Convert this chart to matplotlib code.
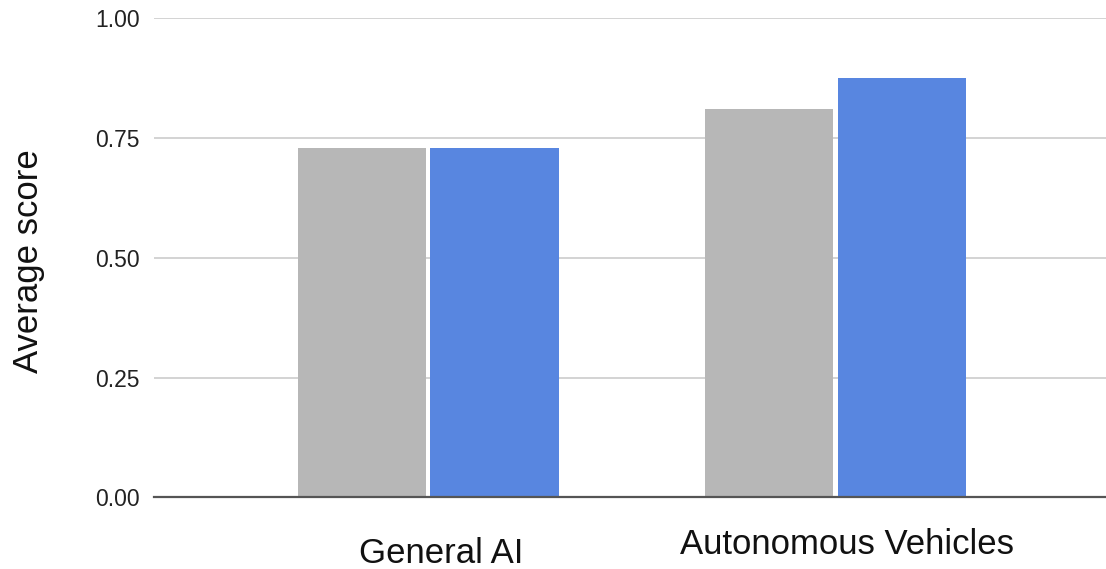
import matplotlib.pyplot as plt
import numpy as np

plt.rcParams['font.family'] = ['Liberation Sans', 'DejaVu Sans']

categories = ["General AI", "Autonomous Vehicles"]
series_gray = [0.729, 0.810]
series_blue = [0.729, 0.875]
yticks = [0.0, 0.25, 0.5, 0.75, 1.0]

fig = plt.figure(figsize=(11.06, 5.69), dpi=100)
ax = fig.add_axes([0.139, 0.126, 0.861, 0.842])

x = np.arange(len(categories))
w = 0.315
ax.bar(x - 0.163, series_gray, width=w, color="#b7b7b7", zorder=3)
ax.bar(x + 0.163, series_blue, width=w, color="#5886e0", zorder=3)

ax.set_xlim(-0.674, 1.665)
ax.set_ylim(0, 1.0)
ax.set_yticks(yticks)
ax.set_yticklabels([f"{v:.2f}" for v in yticks])
ax.yaxis.grid(True, color="#cccccc", linewidth=1.2, zorder=0)
ax.tick_params(axis="y", length=0, pad=10, labelsize=16.5, labelcolor="#222222")
ax.set_xticks([])
for s in ["top", "right", "left"]:
    ax.spines[s].set_visible(False)
ax.spines["bottom"].set_color("#555555")
ax.spines["bottom"].set_linewidth(1.6)
ax.spines["bottom"].set_zorder(4)

# category labels sit at slightly different heights in the original
label_dx = [0.031, 0.028]
label_y = [-0.118, -0.098]
for i, name in enumerate(categories):
    ax.text(x[i] + label_dx[i], label_y[i], name, transform=ax.get_xaxis_transform(),
            ha="center", va="center", fontsize=25, color="#111111")

fig.text(0.026, 0.541, "Average score", rotation=90, ha="center", va="center",
         fontsize=25, color="#111111")

fig.savefig("out.png", dpi=100)
